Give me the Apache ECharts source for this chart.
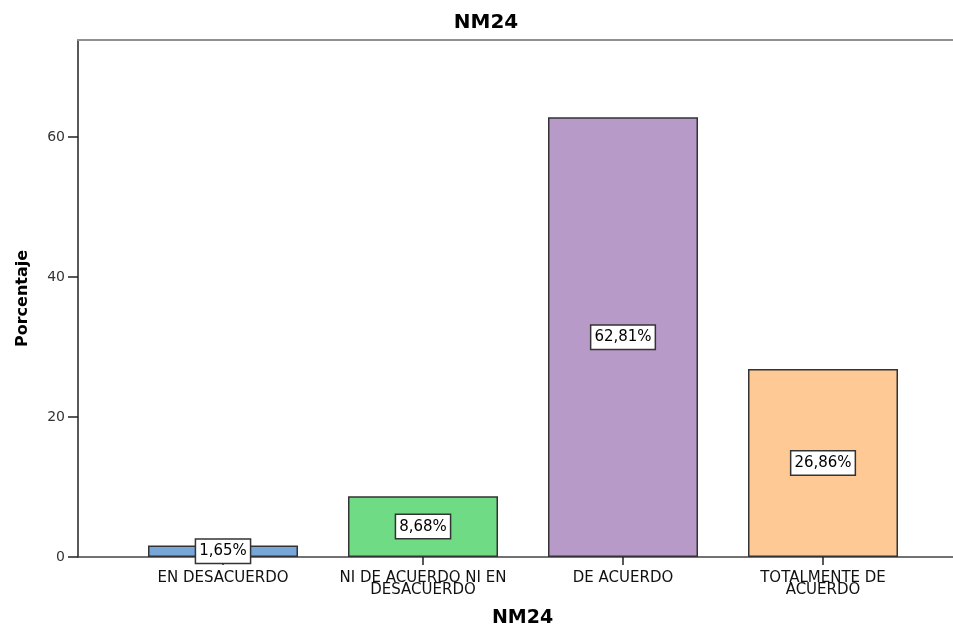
<!DOCTYPE html>
<html lang="en">
<head>
    <meta charset="UTF-8">
    <title>NM24</title>
    <style>body{margin:0;background:#fff}</style>
</head>
<body>
    <div id="main" style="width: 953px;height: 625px;"></div>
    <script src="https://cdn.jsdelivr.net/npm/echarts@6/dist/echarts.min.js"></script>
    <script>
        var categories = ['EN DESACUERDO', 'NI DE ACUERDO NI EN\nDESACUERDO', 'DE ACUERDO', 'TOTALMENTE DE\nACUERDO'];
        var values = [1.65, 8.68, 62.81, 26.86];
        var colors = ['#76a7d8', '#6fdc85', '#b89ac9', '#ffc996'];
        var yTicks = [0, 20, 40, 60];
        var xTicks = [0, 1, 2, 3];

        var chart = echarts.init(document.getElementById('main'));
        var font = 'DejaVu Sans, sans-serif';

        chart.setOption({
            animation: false,
            title: {
                text: 'NM24',
                left: 481, top: 8,
                textAlign: 'center',
                textStyle: { fontFamily: font, fontSize: 20, fontWeight: 'bold', color: '#000' }
            },
            grid: { left: 78, top: 40, right: 0, bottom: 68, containLabel: false, outerBoundsMode: 'none' },
            xAxis: [
                {
                    type: 'value',
                    min: -0.725, max: 3.65,
                    name: 'NM24',
                    nameLocation: 'middle',
                    nameGap: 52,
                    nameTextStyle: { fontFamily: font, fontSize: 19, fontWeight: 'bold', color: '#000', padding: [0, 0, 0, 14] },
                    splitLine: { show: false },
                    axisLine: { onZero: false, lineStyle: { color: '#444', width: 1.5 } },
                    axisTick: { customValues: xTicks, length: 8, lineStyle: { color: '#222', width: 1.5 } },
                    axisLabel: {
                        customValues: xTicks,
                        margin: 15,
                        fontFamily: font, fontSize: 15, color: '#111', lineHeight: 12,
                        formatter: function (v) { return categories[v]; }
                    }
                },
                {
                    type: 'value', position: 'top',
                    min: -0.725, max: 3.65,
                    splitLine: { show: false },
                    axisLine: { onZero: false, lineStyle: { color: '#909090', width: 2 } },
                    axisTick: { show: false },
                    axisLabel: { show: false }
                }
            ],
            yAxis: {
                type: 'value',
                min: 0, max: 73.86,
                name: 'Porcentaje',
                nameLocation: 'middle',
                nameGap: 47,
                nameTextStyle: { fontFamily: font, fontSize: 16, fontWeight: 'bold', color: '#000' },
                splitLine: { show: false },
                axisLine: { show: true, onZero: false, lineStyle: { color: '#222', width: 1.5 } },
                axisTick: { show: true, customValues: yTicks, length: 10, lineStyle: { color: '#222', width: 1.5 } },
                axisLabel: { customValues: yTicks, margin: 13, fontFamily: font, fontSize: 14, color: '#333' }
            },
            series: [{
                type: 'bar',
                barWidth: 150,
                data: values.map(function (v, i) {
                    return { value: [i, v], itemStyle: { color: colors[i] } };
                }),
                itemStyle: { borderColor: '#333', borderWidth: 1.5 },
                label: {
                    show: true,
                    position: 'inside',
                    formatter: function (p) { return p.value[1].toFixed(2).replace('.', ',') + '%'; },
                    fontFamily: font, fontSize: 15, color: '#000', lineHeight: 17,
                    backgroundColor: '#fff',
                    borderColor: '#333', borderWidth: 1.5,
                    padding: [3, 3, 3, 3]
                }
            }]
        });
    </script>
</body>
</html>
